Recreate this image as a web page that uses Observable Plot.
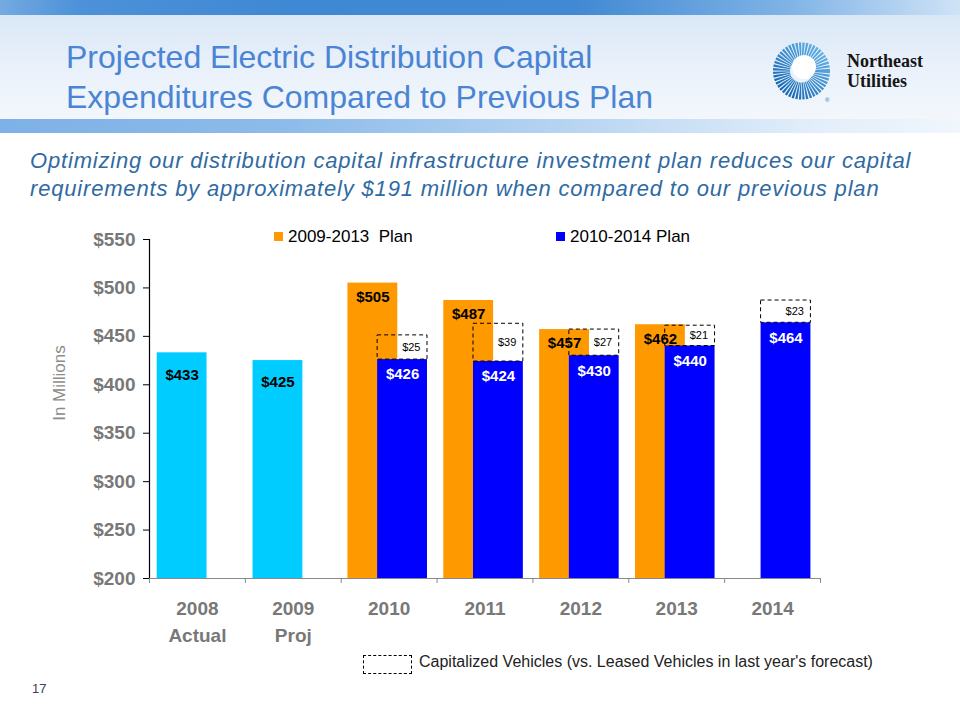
<!DOCTYPE html>
<html><head><meta charset="utf-8">
<script src="https://cdn.jsdelivr.net/npm/d3@7"></script>
<script src="https://cdn.jsdelivr.net/npm/@observablehq/plot@0.6"></script>
<style>
body{margin:0;width:960px;height:720px;position:relative;background:#fff;font-family:Arial,"Liberation Sans",sans-serif;overflow:hidden}
.abs{position:absolute}
.band1{left:0;top:0;width:960px;height:15px;background:linear-gradient(90deg,#74aae0 0%,#4d92d8 8%,#3f88d3 30%,#4189d2 60%,#7fb3e6 82%,#cfe3f6 100%)}
.mid{left:0;top:15px;width:960px;height:104px;background:linear-gradient(180deg,#d9e7f6 0%,#e8f0fa 45%,#f3f7fc 100%)}
.band2{left:0;top:119px;width:960px;height:14px;background:linear-gradient(90deg,#7eb1e7 0%,#8dbbea 30%,#b8d5f2 60%,#e2eefa 85%,#f0f6fc 100%)}
.title{left:66px;top:37px;font-size:32px;line-height:40px;color:#4a84d4;white-space:nowrap}
.sub{left:30px;top:147px;font-size:22px;line-height:28px;letter-spacing:0.82px;color:#2f6aa3;font-style:italic;white-space:nowrap}
.ylab{left:60px;top:383px;transform:translate(-50%,-50%) rotate(-90deg);font-size:17px;color:#8c8c8c;white-space:nowrap}
.leg{font-size:17px;color:#000;white-space:nowrap;line-height:20px}
.sw{display:inline-block;width:9px;height:9px;margin-right:5px;vertical-align:1px}
.cap{left:419px;top:652px;font-size:16px;line-height:20px;color:#222;white-space:nowrap}
.capbox{left:363px;top:655px;width:47px;height:17px;border:1px dashed #000}
.pg{left:32px;top:680px;font-size:13px;line-height:18px;color:#3b3f5c}
.logoT{left:847px;top:51px;font-family:"Liberation Serif","DejaVu Serif",serif;font-weight:bold;font-size:18px;line-height:20px;color:#151515}
#chart{left:0;top:220px}
</style>
</head><body>
<div class="abs band1"></div>
<div class="abs mid"></div>
<div class="abs band2"></div>
<div class="abs title">Projected Electric Distribution Capital<br>Expenditures Compared to Previous Plan</div>
<svg class="abs" style="left:768px;top:38px" width="68" height="68" viewBox="0 0 68 68">
  <defs><linearGradient id="lg" x1="0" y1="1" x2="1" y2="0"><stop offset="0" stop-color="#1768b4"/><stop offset="1" stop-color="#5fb0e4"/></linearGradient></defs>
  <circle cx="33.5" cy="33" r="20" fill="none" stroke="url(#lg)" stroke-width="17" stroke-dasharray="1.7 0.92"/>
  <circle cx="36" cy="29" r="12" fill="#fff"/>
  <text x="57" y="64" font-size="6" fill="#1768b4">®</text>
</svg>
<div class="abs logoT">Northeast<br>Utilities</div>
<div class="abs sub">Optimizing our distribution capital infrastructure investment plan reduces our capital<br>requirements by approximately $191 million when compared to our previous plan</div>
<div class="abs ylab">In Millions</div>
<div id="chart" class="abs"></div>
<div class="abs leg" style="left:274px;top:227px"><span class="sw" style="background:#ff9900"></span>2009-2013&nbsp; Plan</div>
<div class="abs leg" style="left:556px;top:227px"><span class="sw" style="background:#0000ff"></span>2010-2014 Plan</div>
<div class="abs capbox"></div>
<div class="abs cap">Capitalized Vehicles (vs. Leased Vehicles in last year's forecast)</div>
<div class="abs pg">17</div>
<script>
const categories = ["2008", "2009", "2010", "2011", "2012", "2013", "2014"];
const categorySubLabels = ["Actual", "Proj", "", "", "", "", ""];
const actualYears = ["2008", "2009"];
const actualValues = [433, 425];
const prevPlanYears = ["2010", "2011", "2012", "2013"];
const prevPlanValues = [505, 487, 457, 462];
const newPlanYears = ["2010", "2011", "2012", "2013", "2014"];
const newPlanValues = [426, 424, 430, 440, 464];
const vehicleValues = [25, 39, 27, 21, 23];
const yTicks = [200, 250, 300, 350, 400, 450, 500, 550];

const idx = y => categories.indexOf(y);
const actual = actualYears.map((y, k) => ({i: idx(y), v: actualValues[k]}));
const prev = prevPlanYears.map((y, k) => ({i: idx(y), v: prevPlanValues[k]}));
const next = newPlanYears.map((y, k) => ({i: idx(y), v: newPlanValues[k], d: vehicleValues[k]}));
const base = yTicks[0];
const fmt = v => "$" + v;
const axisFont = {fontSize: 19, fontWeight: "bold", fill: "#787878"};

const plot = Plot.plot({
  width: 960, height: 440,
  marginLeft: 149, marginRight: 140, marginTop: 19, marginBottom: 82,
  x: {domain: [0, categories.length], axis: null},
  y: {domain: [yTicks[0], yTicks[yTicks.length - 1]], axis: null},
  style: {fontFamily: "Arial, 'Liberation Sans', sans-serif", background: "transparent", overflow: "visible"},
  marks: [
    Plot.rectY(actual, {x1: d => d.i + 0.08, x2: d => d.i + 0.60, y1: base, y2: "v", fill: "#00ccff"}),
    Plot.rectY(prev, {x1: d => d.i + 0.07, x2: d => d.i + 0.59, y1: base, y2: "v", fill: "#ff9900"}),
    Plot.rectY(next, {x1: d => d.i + 0.38, x2: d => d.i + 0.90, y1: base, y2: "v", fill: "#0000ff"}),
    Plot.rectY(next, {x1: d => d.i + 0.38, x2: d => d.i + 0.90, y1: "v", y2: d => d.v + d.d, fill: "none", stroke: "#000", strokeWidth: 1, strokeDasharray: "4,3"}),
    Plot.text(actual, {x: d => d.i + 0.34, y: "v", text: d => fmt(d.v), dy: 22, fontSize: 15, fontWeight: "bold", fill: "#000"}),
    Plot.text(prev, {x: d => d.i + 0.33, y: "v", text: d => fmt(d.v), dy: 14, fontSize: 15, fontWeight: "bold", fill: "#000"}),
    Plot.text(next, {x: d => d.i + 0.64, y: "v", text: d => fmt(d.v), dy: 15, fontSize: 15, fontWeight: "bold", fill: "#fff"}),
    Plot.text(next, {x: d => d.i + 0.90, y: d => d.v + d.d / 2, text: d => fmt(d.d), dx: -7, textAnchor: "end", fontSize: 11, fill: "#000"}),
    Plot.ruleY([base], {x1: 0, x2: categories.length, stroke: "#8a8a8a", strokeWidth: 1}),
    Plot.axisX(d3.range(categories.length + 1), {tickSize: 5, tickFormat: () => "", stroke: "#8a8a8a", label: null}),
    Plot.axisX(categories.map((c, i) => i + 0.5), {tickSize: 0, tickPadding: 17, lineHeight: 1.42, label: null,
      tickFormat: d => { const i = Math.floor(d); return categorySubLabels[i] ? categories[i] + "\n" + categorySubLabels[i] : categories[i]; },
      ...axisFont}),
    Plot.axisY(yTicks, {tickSize: 6, tickPadding: 8, tickFormat: fmt, stroke: "#000", label: null, ...axisFont}),
    Plot.ruleX([0], {y1: base, y2: yTicks[yTicks.length - 1], stroke: "#000", strokeWidth: 1.2})
  ]
});
document.getElementById("chart").appendChild(plot);
</script>
</body></html>
